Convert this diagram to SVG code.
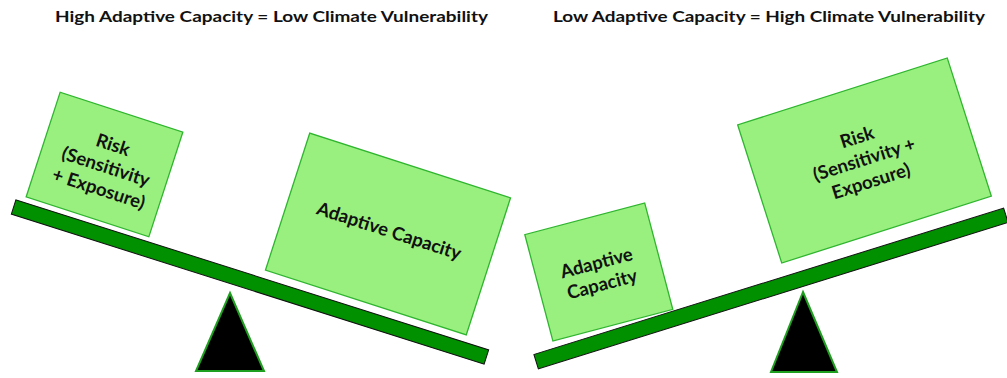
<svg xmlns="http://www.w3.org/2000/svg" width="1007" height="378" viewBox="0 0 1007 378">
  <style>
    .title { font-family: Lato, "Liberation Sans", sans-serif; font-weight: bold; font-size: 16px; fill: #111; }
    .box { fill: #99f07e; stroke: #2fb52f; stroke-width: 1.3; }
    .label { font-family: Lato, "Liberation Sans", sans-serif; font-weight: bold; font-size: 18.5px; fill: #111; text-anchor: middle; }
    .beam { fill: #009000; stroke: #111; stroke-width: 1; }
    .fulcrum { fill: #000; stroke: #1f9f1f; stroke-width: 2; stroke-linejoin: miter; }
  </style>

  <!-- headings -->
  <text class="title" x="55" y="22" textLength="433" lengthAdjust="spacingAndGlyphs">High Adaptive Capacity = Low Climate Vulnerability</text>
  <text class="title" x="553" y="22" textLength="432" lengthAdjust="spacingAndGlyphs">Low Adaptive Capacity = High Climate Vulnerability</text>

  <!-- left balance: adaptive capacity outweighs risk -->
  <g id="left-fulcrum">
    <polygon class="fulcrum" points="230,293 264,371 196,371"/>
  </g>
  <g id="left-risk" transform="translate(104.5,164.5) rotate(18)">
    <rect class="box" x="-64.5" y="-55" width="129" height="110"/>
    <text class="label" x="2" y="-15">Risk</text>
    <text class="label" x="2" y="8">(Sensitivity</text>
    <text class="label" x="2" y="31">+ Exposure)</text>
  </g>
  <g id="left-adaptive" transform="translate(388,234) rotate(17.9)">
    <rect class="box" x="-105.5" y="-72" width="211" height="144"/>
    <text class="label" x="0" y="3">Adaptive Capacity</text>
  </g>
  <g id="left-beam" transform="translate(250,282) rotate(17.6)">
    <rect class="beam" x="-248" y="-7.5" width="496" height="15"/>
  </g>

  <!-- right balance: risk outweighs adaptive capacity -->
  <g id="right-fulcrum">
    <polygon class="fulcrum" points="803,292 837,372 771,372"/>
  </g>
  <g id="right-adaptive" transform="translate(598.8,272) rotate(-14.8)">
    <rect class="box" x="-62" y="-55" width="124" height="110"/>
    <text class="label" x="0" y="-3">Adaptive</text>
    <text class="label" x="0" y="19">Capacity</text>
  </g>
  <g id="right-risk" transform="translate(864.5,160.5) rotate(-17.7)">
    <rect class="box" x="-110" y="-72.5" width="220" height="145"/>
    <text class="label" x="0" y="-18">Risk</text>
    <text class="label" x="0" y="5">(Sensitivity +</text>
    <text class="label" x="0" y="28">Exposure)</text>
  </g>
  <g id="right-beam" transform="translate(771,288.5) rotate(-17.3)">
    <rect class="beam" x="-246" y="-7.5" width="492" height="15"/>
  </g>
</svg>
